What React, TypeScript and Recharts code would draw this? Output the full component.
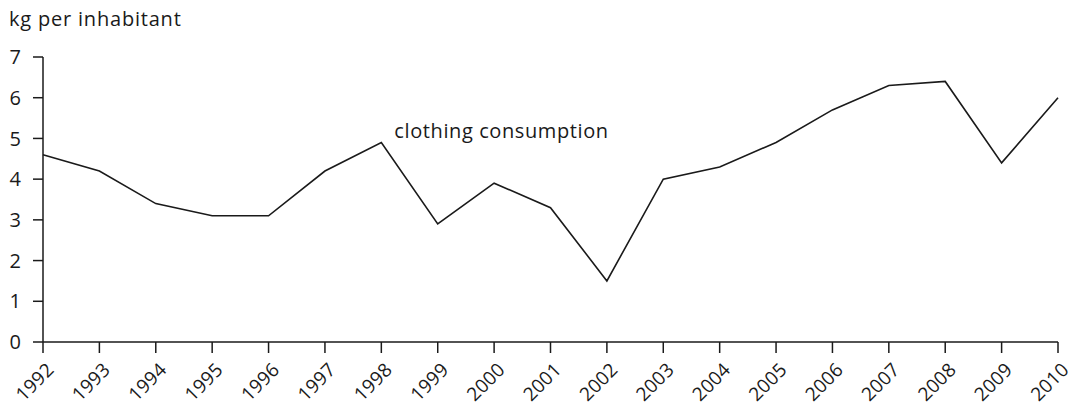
import React from 'react'
import { CartesianGrid, Line, LineChart, XAxis, YAxis } from 'recharts'

const years = [
  '1992', '1993', '1994', '1995', '1996', '1997', '1998', '1999', '2000', '2001',
  '2002', '2003', '2004', '2005', '2006', '2007', '2008', '2009', '2010'
]
const clothing = [4.6, 4.2, 3.4, 3.1, 3.1, 4.2, 4.9, 2.9, 3.9, 3.3, 1.5, 4.0, 4.3, 4.9, 5.7, 6.3, 6.4, 4.4, 6.0]
const yTicks = [0, 1, 2, 3, 4, 5, 6, 7]
const seriesName = 'clothing consumption'
const labelYear = '1998'

const data = years.map((year, i) => ({ year, value: clothing[i] }))

const font = '"Open Sans", "DejaVu Sans", sans-serif'
const ink = '#1a1a1a'

function YearTick(props: any) {
  const { x, y, payload } = props
  const ax = x + 12
  const ay = y + 16
  return (
    <text
      x={ax}
      y={ay}
      transform={`rotate(-45, ${ax}, ${ay})`}
      textAnchor="end"
      fontSize={19}
      letterSpacing={0.2}
      fontFamily={font}
      fill={ink}
    >
      {payload.value}
    </text>
  )
}

function SeriesLabel(props: any) {
  const { x, y, index } = props
  if (years[index] !== labelYear) return null
  return (
    <text x={x + 13} y={y - 5} fontSize={20} letterSpacing={0.6} fontFamily={font} fill={ink}>
      {seriesName}
    </text>
  )
}

export default function App() {
  return (
    <div style={{ position: 'absolute', left: 0, top: 0, width: 1076, height: 408, background: '#fff' }}>
      <div
        style={{
          position: 'absolute',
          left: 9,
          top: 5,
          fontFamily: font,
          fontSize: 20,
          letterSpacing: 0.8,
          color: ink
        }}
      >
        kg per inhabitant
      </div>
      <LineChart
        width={1076}
        height={408}
        data={data}
        margin={{ top: 57, right: 18, left: 0, bottom: 0 }}
      >
        <CartesianGrid stroke="none" />
        <XAxis
          dataKey="year"
          interval={0}
          height={66}
          tickSize={11}
          tick={<YearTick />}
          axisLine={{ stroke: ink, strokeWidth: 1.5 }}
          tickLine={{ stroke: ink, strokeWidth: 1.5 }}
        />
        <YAxis
          domain={[0, 7]}
          ticks={yTicks}
          interval={0}
          width={43}
          tickSize={10}
          tickMargin={12}
          tick={{ fontSize: 20, fill: ink, fontFamily: font }}
          axisLine={{ stroke: ink, strokeWidth: 1.5 }}
          tickLine={{ stroke: ink, strokeWidth: 1.5 }}
        />
        <Line
          type="linear"
          dataKey="value"
          stroke={ink}
          strokeWidth={1.6}
          dot={false}
          activeDot={false}
          isAnimationActive={false}
          label={<SeriesLabel />}
        />
      </LineChart>
    </div>
  )
}
